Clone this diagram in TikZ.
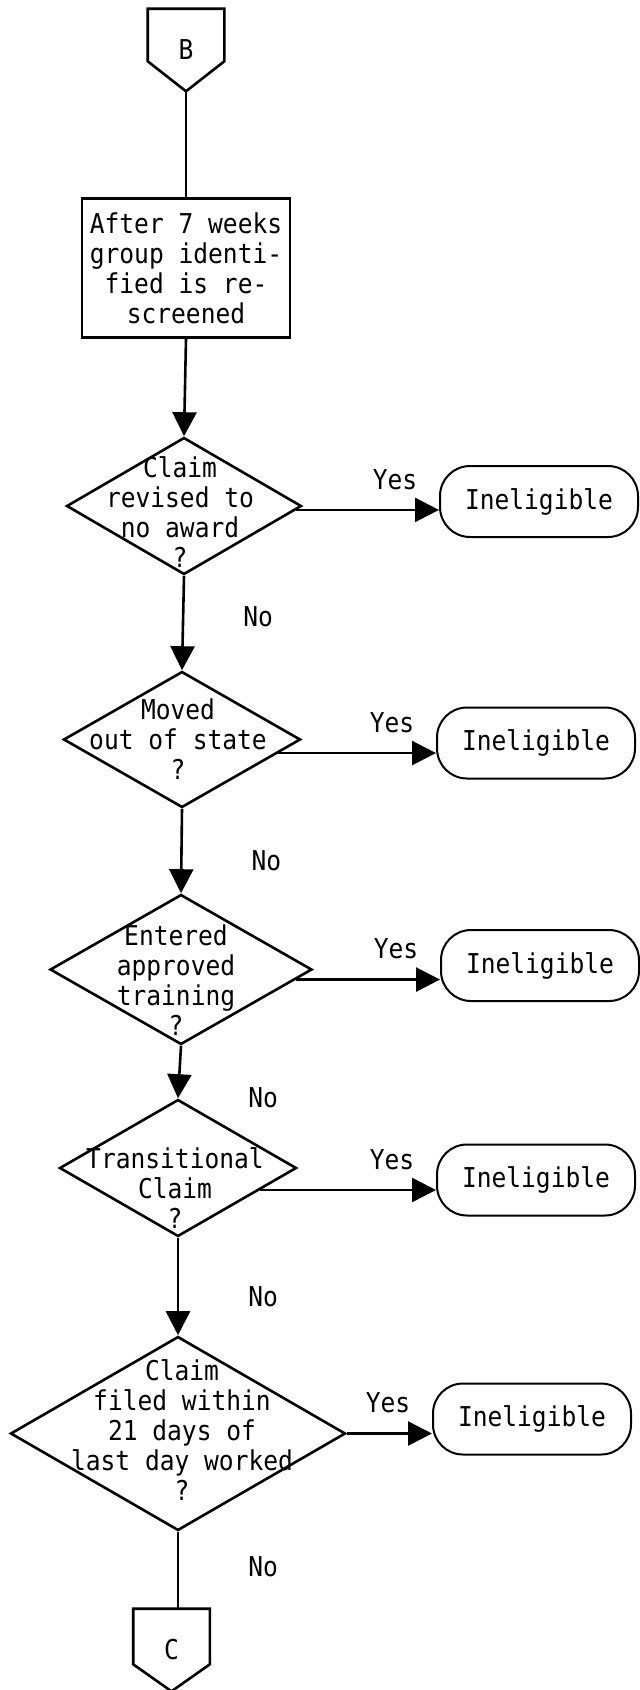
\documentclass[tikz,border=0pt]{standalone}
\usepackage{fontspec}
\newfontfamily\flowfont[FakeStretch=0.9]{DejaVu Sans Mono}
\usetikzlibrary{arrows.meta,shapes.geometric,positioning}

\begin{document}
\begin{tikzpicture}[x=1pt,y=-1pt,line width=2.6pt,
		>={Triangle[length=24pt,width=24pt]},
		font=\flowfont\fontsize{27.3pt}{30pt}\selectfont,
		offpage/.style={rectangle,minimum width=74pt,minimum height=80pt,inner sep=0pt},
		process/.style={rectangle,draw,minimum width=208pt,minimum height=139pt,inner sep=4pt,align=center},
		decision/.style={diamond,draw,inner sep=0pt},
		qtext/.style={align=center,inner sep=0pt},
		term/.style={rectangle,draw,rounded corners=30pt,line width=2pt,minimum width=198pt,minimum height=71pt},
		yes/.style={above,inner sep=0pt,xshift=-44pt,yshift=19pt},
		no/.style={right,inner sep=0pt,xshift=69pt}]

		\useasboundingbox (0,0) rectangle (640,1690);

		\node[offpage] (B) at (186,50) {B};
		\node[process, node distance=218pt] (box) [below of=B]
		{After 7 weeks\\group identi-\\fied is re-\\screened};
		\node[decision, minimum width=235pt, minimum height=137pt,
		label={[qtext, xshift=-4pt, yshift=-6pt]center:{Claim\\revised to\\no award\\?}}]
		(d1) [node distance=238pt, below of=box, xshift=-2pt] {};
		\node[decision, minimum width=237pt, minimum height=136pt,
		label={[qtext, xshift=-4pt]center:{Moved\\out of state\\?}}]
		(d2) [node distance=233.5pt, below of=d1, xshift=-2pt] {};
		\node[decision, minimum width=262pt, minimum height=150pt,
		label={[qtext, xshift=-5pt, yshift=-11pt]center:{Entered\\approved\\training\\?}}]
		(d3) [node distance=230pt, below of=d2, xshift=-1pt] {};
		\node[decision, minimum width=237pt, minimum height=137pt,
		label={[qtext, xshift=-3pt, yshift=-20pt]center:{Transitional\\Claim\\?}}]
		(d4) [node distance=198.5pt, below of=d3, xshift=-3pt] {};
		\node[decision, minimum width=335pt, minimum height=194pt,
		label={[qtext, xshift=4pt, yshift=3pt]center:{Claim\\filed within\\21 days of\\last day worked\\?}}]
		(d5) [node distance=265.5pt, below of=d4] {};
		\node[offpage, node distance=216.5pt] (C) [below of=d5, xshift=-6.5pt] {C};

		\node[term, node distance=355pt] (i1) [right of=d1, yshift=4.5pt] {Ineligible};
		\node[term, node distance=354pt] (i2) [right of=d2, yshift=-3.5pt] {Ineligible};
		\node[term, node distance=359pt] (i3) [right of=d3, yshift=4pt] {Ineligible};
		\node[term, node distance=358pt] (i4) [right of=d4, yshift=-12pt] {Ineligible};
		\node[term, node distance=354pt] (i5) [right of=d5, yshift=14.5pt] {Ineligible};

		\draw (B.north west) -- (B.north east) -- ([yshift=30pt]B.south east)
		-- (B.south) -- ([yshift=30pt]B.south west) -- cycle;
		\draw (C.north west) -- (C.north east) -- ([yshift=27pt]C.south east)
		-- (C.south) -- ([yshift=27pt]C.south west) -- cycle;

		\draw (B.south) -- (box.north);
		\draw[->] (box.south) -- (d1.north);
		\draw[->] (d1.south) -- node[no, pos=.43, xshift=-10pt] {No} (d2.north);
		\draw[->] (d2.south) -- node[no, pos=.62] {No} (d3.north);
		\draw[->] (d3.south) -- node[no, pos=1] {No} (d4.north);
		\draw[->] (d4.south) -- node[no, pos=.6] {No} (d5.north);
		\draw (d5.south) -- node[no, pos=.46] {No} (d5.south |- C.north);

		\draw[->] (d1.-2) -- (d1.-2 -| i1.west) node[yes] {Yes};
		\draw[->] (d2.-8) -- (d2.-8 -| i2.west) node[yes] {Yes};
		\draw[->] (d3.-5) -- (d3.-5 -| i3.west) node[yes] {Yes};
		\draw[->] (d4.-15) -- (d4.-15 -| i4.west) node[yes] {Yes};
		\draw[->] (d5.east) -- (d5.east -| i5.west) node[yes] {Yes};
	\end{tikzpicture}
\end{document}
